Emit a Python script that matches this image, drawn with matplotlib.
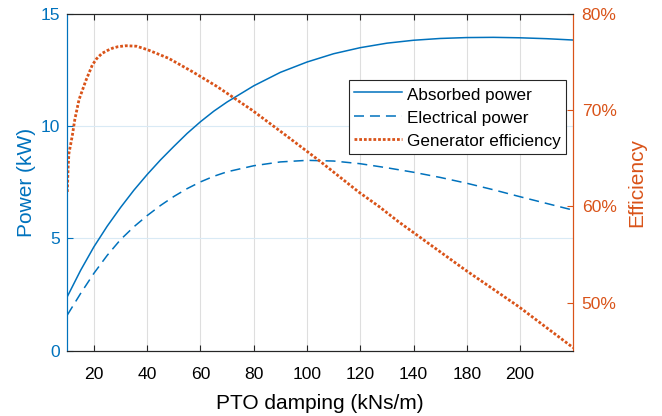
import matplotlib
matplotlib.use("Agg")
import matplotlib.pyplot as plt

plt.rcParams['font.family'] = ['Liberation Sans', 'DejaVu Sans']

# ---------------- data ----------------
x_power = [10, 15, 20, 25, 30, 35, 40, 45, 50, 55, 60, 65, 70, 80, 90, 100,
           110, 120, 130, 140, 150, 160, 170, 180, 190, 200]
absorbed_power = [2.41, 3.58, 4.63, 5.55, 6.38, 7.15, 7.85, 8.5, 9.1, 9.68,
                  10.2, 10.67, 11.08, 11.8, 12.4, 12.86, 13.23, 13.5, 13.7,
                  13.83, 13.91, 13.95, 13.96, 13.94, 13.9, 13.84]
electrical_power = [1.59, 2.55, 3.45, 4.25, 4.95, 5.52, 6.02, 6.47, 6.87, 7.22,
                    7.52, 7.77, 7.97, 8.24, 8.41, 8.48, 8.45, 8.33, 8.15, 7.95,
                    7.72, 7.46, 7.17, 6.86, 6.56, 6.26]
x_eff = [10, 10.3, 10.6, 11.3, 11.9, 12.8, 14.4, 17, 19.4, 21, 23, 25, 27, 29,
         32, 36, 40, 48, 57, 66, 73, 79.4, 92, 104.4, 119.4, 127, 134.4, 139.4,
         159.4, 179.4, 200]
efficiency = [61.5, 64.0, 65.5, 66.5, 67.4, 69.0, 71.1, 73.1, 74.7, 75.35, 75.9,
              76.2, 76.45, 76.6, 76.7, 76.65, 76.3, 75.4, 74.0, 72.5, 71.2,
              70.0, 67.4, 64.8, 61.5, 60.0, 58.4, 57.4, 53.4, 49.6, 45.3]

x_ticks = [20, 40, 60, 80, 100, 120, 140, 160, 180]
x_tick_labels = ['20', '40', '60', '80', '100', '120', '140', '180', '200']
left_ticks = [0, 5, 10, 15]
right_ticks = [50, 60, 70, 80]
right_tick_labels = ['50%', '60%', '70%', '80%']
series_names = ['Absorbed power', 'Electrical power', 'Generator efficiency']

# ---------------- style ----------------
BLUE = '#0072BD'
ORANGE = '#D95319'
DARK = '#262626'
W, H = 662, 416

fig = plt.figure(figsize=(W / 100, H / 100), dpi=100)
ax = fig.add_axes([67.3 / W, (H - 350.7) / H, (573.3 - 67.3) / W, (350.7 - 14) / H])
ax2 = ax.twinx()

lw = 1.1
l1, = ax.plot(x_power, absorbed_power, color=BLUE, lw=lw)
l2, = ax.plot(x_power, electrical_power, color=BLUE, lw=lw,
              dashes=(7.2 / lw, 4.3 / lw))
lw3 = 2.0
l3, = ax2.plot(x_eff, efficiency, color=ORANGE, lw=lw3, dashes=(1.0, 0.7),
               dash_capstyle='butt')

ax.set_xlim(10, 200)
ax.set_ylim(0, 15)
ax2.set_ylim(45, 80)

ax.set_xticks(x_ticks)
ax.set_xticklabels(x_tick_labels)
ax.set_yticks(left_ticks)
ax2.set_yticks(right_ticks)
ax2.set_yticklabels(right_tick_labels)

# grid
ax.grid(True, axis='x', color='#DEDEDE', lw=0.8)
ax.grid(True, axis='y', color='#D9EAF5', lw=0.8)
ax.set_axisbelow(True)

# spines
for a in (ax, ax2):
    a.spines['top'].set_color(DARK)
    a.spines['bottom'].set_color(DARK)
    a.spines['left'].set_color(BLUE)
    a.spines['right'].set_color(ORANGE)
    for s in a.spines.values():
        s.set_linewidth(0.8)

fs_tick = 12.6
ax.tick_params(axis='x', direction='in', length=4, width=0.8, colors=DARK,
               labelcolor='black', top=True, pad=11.5, labelsize=fs_tick)
ax.tick_params(axis='y', direction='in', length=4, width=0.8, colors=BLUE,
               labelcolor=BLUE, pad=5, labelsize=fs_tick)
ax2.tick_params(axis='y', direction='in', length=4, width=0.8, colors=ORANGE,
                labelcolor=ORANGE, pad=6, labelsize=fs_tick)

fs_lab = 15
ax.set_xlabel('PTO damping (kNs/m)', fontsize=fs_lab, color='black')
ax.xaxis.set_label_coords(0.5, -0.13)
ax.set_ylabel('Power (kW)', fontsize=fs_lab, color=BLUE)
ax.yaxis.set_label_coords(-0.061, 0.5)
ax2.set_ylabel('Efficiency', fontsize=fs_lab, color=ORANGE)
ax2.yaxis.set_label_coords(1.107, 0.5)

leg = ax2.legend([l1, l2, l3], series_names, loc='upper left',
                 bbox_to_anchor=(349 / W, 1 - 80 / H), bbox_transform=fig.transFigure,
                 fontsize=12.3, frameon=True, fancybox=False, framealpha=1,
                 edgecolor=DARK, borderpad=0.3, labelspacing=0.33,
                 handleheight=1.2, handlelength=2.8, handletextpad=0.3,
                 borderaxespad=0)
leg.get_frame().set_linewidth(0.8)

fig.savefig('out.png', dpi=100)
